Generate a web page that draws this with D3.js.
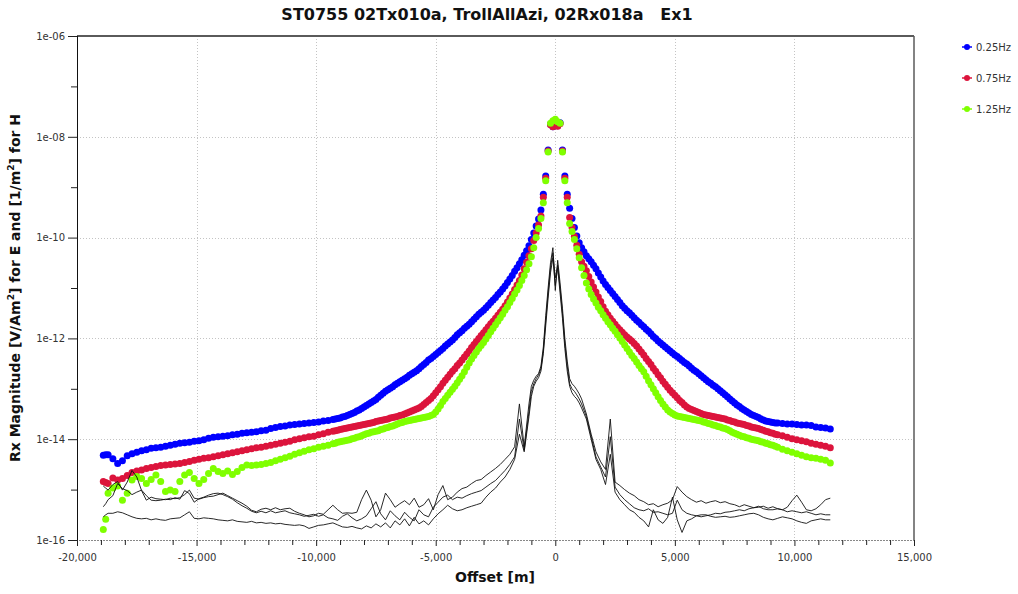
<!DOCTYPE html>
<html>
<head>
<meta charset="utf-8">
<script src="https://cdn.jsdelivr.net/npm/d3@7"></script>
<style>
  html, body { margin: 0; padding: 0; background: #fff; }
  svg { display: block; font-family: "DejaVu Sans", sans-serif; }
</style>
</head>
<body>
<svg id="chart" width="1018" height="594"></svg>
<script>
// ---------------- DATA ----------------
const titleText = "ST0755 02Tx010a, TrollAllAzi, 02Rx018a   Ex1";
const seriesNames = ["0.25Hz", "0.75Hz", "1.25Hz"];
const xTickValues = d3.range(-20000, 15001, 1000);
const xTickLabels = [-20000, -15000, -10000, -5000, 0, 5000, 10000, 15000];
const yTickExponents = [-16, -15, -14, -13, -12, -11, -10, -9, -8, -7, -6];
const yTickLabels = ["1e-16", "1e-14", "1e-12", "1e-10", "1e-08", "1e-06"];

// offsets [m] (receiver positions)
const offsets = [-18900, -18800, ...d3.range(-18700, -1299, 200),
                 ...d3.range(-1100, 1101, 100), ...d3.range(1300, 11501, 200)];
// additional receivers on the sloping flanks (dots only)
const extraOffsets = [...d3.range(-9200, -1199, 200), ...d3.range(1200, 9201, 200)];

// log10 of Rx magnitude
const log10Mag_025Hz = [
  -14.32,-14.31,-14.31,-14.39,-14.48,-14.43,-14.33,-14.29,-14.26,-14.23,
  -14.21,-14.18,-14.17,-14.16,-14.14,-14.12,-14.10,-14.08,-14.07,-14.06,
  -14.04,-14.03,-14.01,-13.98,-13.96,-13.95,-13.94,-13.93,-13.91,-13.90,
  -13.88,-13.87,-13.86,-13.85,-13.83,-13.82,-13.79,-13.77,-13.75,-13.74,
  -13.72,-13.71,-13.70,-13.69,-13.68,-13.67,-13.66,-13.64,-13.63,-13.61,
  -13.59,-13.56,-13.53,-13.49,-13.44,-13.39,-13.33,-13.27,-13.21,-13.13,
  -13.05,-12.99,-12.92,-12.86,-12.80,-12.73,-12.67,-12.60,-12.52,-12.43,
  -12.36,-12.28,-12.20,-12.11,-12.03,-11.93,-11.85,-11.76,-11.67,-11.57,
  -11.48,-11.39,-11.29,-11.19,-11.08,-10.96,-10.82,-10.67,-10.52,-10.35,
  -10.16,-10.04,-9.91,-9.77,-9.63,-9.45,-9.14,-8.78,-8.26,-7.75,-7.80,-7.70,
  -7.78,-7.72,-8.26,-8.78,-9.14,-9.42,-9.62,-9.80,-9.97,-10.10,-10.20,
  -10.36,-10.48,-10.62,-10.78,-10.93,-11.05,-11.17,-11.29,-11.40,-11.49,
  -11.59,-11.68,-11.77,-11.86,-11.96,-12.05,-12.13,-12.21,-12.29,-12.36,
  -12.44,-12.51,-12.59,-12.66,-12.74,-12.82,-12.89,-12.96,-13.04,-13.12,
  -13.20,-13.28,-13.35,-13.42,-13.48,-13.53,-13.57,-13.62,-13.65,-13.67,
  -13.68,-13.69,-13.70,-13.70,-13.71,-13.72,-13.72,-13.73,-13.76,-13.77,
  -13.78,-13.80
];
const log10Mag_025Hz_extra = [
  -13.60,-13.58,-13.55,-13.51,-13.47,-13.42,-13.36,-13.30,-13.24,-13.17,
  -13.09,-13.02,-12.96,-12.89,-12.83,-12.77,-12.70,-12.64,-12.56,-12.48,
  -12.40,-12.32,-12.24,-12.15,-12.07,-11.98,-11.89,-11.80,-11.72,-11.62,
  -11.52,-11.44,-11.34,-11.24,-11.13,-11.02,-10.89,-10.75,-10.60,-10.44,-10.26,
  -10.28,-10.42,-10.55,-10.70,-10.86,-10.99,-11.11,-11.23,-11.35,-11.45,
  -11.54,-11.64,-11.73,-11.82,-11.91,-12.00,-12.09,-12.17,-12.25,-12.33,
  -12.40,-12.48,-12.55,-12.63,-12.70,-12.78,
  -12.86,-12.93,-13.00,-13.08,-13.16,-13.24,-13.32,-13.39,-13.45,-13.51,
  -13.55,-13.60,-13.64,-13.66,-13.68
];
const log10Mag_075Hz = [
  -14.84,-14.86,-14.88,-14.77,-14.81,-14.78,-14.72,-14.66,-14.63,-14.61,
  -14.58,-14.56,-14.54,-14.52,-14.51,-14.50,-14.49,-14.48,-14.46,-14.44,
  -14.42,-14.40,-14.38,-14.37,-14.35,-14.33,-14.31,-14.29,-14.27,-14.25,
  -14.23,-14.21,-14.19,-14.17,-14.16,-14.14,-14.12,-14.10,-14.08,-14.06,
  -14.04,-14.01,-13.99,-13.97,-13.95,-13.94,-13.91,-13.89,-13.86,-13.84,
  -13.82,-13.80,-13.78,-13.76,-13.74,-13.72,-13.70,-13.68,-13.65,-13.63,
  -13.61,-13.58,-13.56,-13.53,-13.50,-13.46,-13.42,-13.38,-13.31,-13.23,
  -13.14,-13.02,-12.89,-12.77,-12.65,-12.54,-12.43,-12.31,-12.18,-12.06,
  -11.94,-11.83,-11.71,-11.60,-11.48,-11.35,-11.20,-11.03,-10.85,-10.62,
  -10.36,-10.22,-10.06,-9.91,-9.75,-9.57,-9.20,-8.82,-8.28,-7.76,-7.80,-7.71,
  -7.79,-7.74,-8.28,-8.82,-9.20,-9.60,-9.80,-9.98,-10.15,-10.33,-10.48,
  -10.66,-10.88,-11.08,-11.27,-11.46,-11.60,-11.72,-11.83,-11.93,-12.01,
  -12.10,-12.21,-12.33,-12.46,-12.59,-12.72,-12.85,-12.97,-13.08,-13.18,
  -13.27,-13.36,-13.41,-13.45,-13.49,-13.52,-13.54,-13.56,-13.58,-13.60,
  -13.63,-13.66,-13.69,-13.71,-13.74,-13.77,-13.79,-13.82,-13.85,-13.88,
  -13.91,-13.93,-13.96,-13.99,-14.01,-14.03,-14.05,-14.08,-14.10,-14.12,
  -14.14,-14.17
];
const log10Mag_075Hz_extra = [
  -13.83,-13.81,-13.79,-13.77,-13.75,-13.73,-13.71,-13.69,-13.67,-13.64,
  -13.62,-13.60,-13.57,-13.55,-13.52,-13.48,-13.44,-13.40,-13.35,-13.27,
  -13.19,-13.08,-12.96,-12.83,-12.71,-12.60,-12.49,-12.37,-12.25,-12.12,
  -12.00,-11.89,-11.77,-11.66,-11.54,-11.42,-11.28,-11.12,-10.94,-10.74,-10.49,
  -10.57,-10.77,-10.98,-11.18,-11.37,-11.53,-11.66,-11.78,-11.88,-11.97,
  -12.05,-12.15,-12.27,-12.40,-12.52,-12.65,-12.78,-12.91,-13.03,-13.13,
  -13.23,-13.32,-13.39,-13.43,-13.47,-13.51,
  -13.53,-13.55,-13.57,-13.59,-13.62,-13.65,-13.68,-13.70,-13.73,-13.76,
  -13.78,-13.81,-13.84,-13.87,-13.90
];
const log10Mag_125Hz = [
  -15.79,-15.59,-15.07,-14.97,-14.93,-15.21,-15.07,-14.81,-14.74,-14.78,
  -14.88,-14.80,-14.71,-14.84,-15.04,-15.01,-15.04,-14.84,-14.71,-14.66,
  -14.78,-14.88,-14.80,-14.68,-14.58,-14.64,-14.68,-14.63,-14.70,-14.64,
  -14.56,-14.51,-14.52,-14.51,-14.50,-14.48,-14.46,-14.43,-14.40,-14.37,
  -14.34,-14.30,-14.27,-14.24,-14.21,-14.19,-14.16,-14.14,-14.12,-14.09,
  -14.06,-14.04,-14.02,-13.99,-13.96,-13.93,-13.89,-13.86,-13.84,-13.81,
  -13.78,-13.75,-13.72,-13.68,-13.65,-13.63,-13.61,-13.59,-13.57,-13.55,
  -13.51,-13.40,-13.25,-13.13,-13.01,-12.88,-12.74,-12.57,-12.41,-12.27,
  -12.14,-12.01,-11.87,-11.73,-11.59,-11.44,-11.29,-11.12,-10.95,-10.75,
  -10.52,-10.38,-10.20,-10.00,-9.82,-9.62,-9.31,-8.87,-8.30,-7.73,-7.68,-7.65,
  -7.70,-7.73,-8.30,-8.87,-9.31,-9.72,-9.88,-10.04,-10.22,-10.40,-10.60,
  -10.90,-11.13,-11.30,-11.45,-11.60,-11.73,-11.86,-11.99,-12.13,-12.27,
  -12.40,-12.54,-12.66,-12.84,-13.00,-13.16,-13.30,-13.42,-13.49,-13.54,
  -13.56,-13.58,-13.60,-13.62,-13.64,-13.67,-13.70,-13.73,-13.76,-13.79,
  -13.83,-13.88,-13.92,-13.95,-13.98,-14.01,-14.03,-14.06,-14.09,-14.12,
  -14.16,-14.20,-14.23,-14.26,-14.29,-14.32,-14.35,-14.37,-14.38,-14.40,
  -14.42,-14.47
];
const log10Mag_125Hz_extra = [
  -14.08,-14.05,-14.03,-14.01,-13.98,-13.95,-13.91,-13.88,-13.85,-13.83,
  -13.80,-13.77,-13.74,-13.70,-13.67,-13.64,-13.62,-13.60,-13.58,-13.56,
  -13.53,-13.46,-13.33,-13.19,-13.07,-12.95,-12.81,-12.66,-12.49,-12.34,
  -12.20,-12.08,-11.94,-11.80,-11.66,-11.52,-11.37,-11.21,-11.04,-10.85,-10.64,
  -10.75,-11.02,-11.22,-11.38,-11.53,-11.67,-11.80,-11.93,-12.06,-12.20,
  -12.34,-12.47,-12.60,-12.75,-12.92,-13.08,-13.23,-13.36,-13.46,-13.52,
  -13.55,-13.57,-13.59,-13.61,-13.63,-13.66,
  -13.69,-13.72,-13.75,-13.78,-13.81,-13.86,-13.90,-13.94,-13.97,-14.00,
  -14.02,-14.05,-14.08,-14.11,-14.14
];
// background noise traces (black lines)
const log10Noise_A = [
  -14.93,-14.97,-15.01,-14.90,-14.84,-15.01,-14.85,-14.62,-14.75,-15.02,
  -15.21,-15.15,-15.18,-15.19,-15.20,-15.17,-15.18,-15.16,-15.10,-15.01,
  -15.17,-15.19,-15.16,-15.14,-15.13,-15.10,-15.07,-15.12,-15.17,-15.22,
  -15.27,-15.33,-15.41,-15.44,-15.39,-15.37,-15.40,-15.36,-15.40,-15.38,
  -15.37,-15.43,-15.47,-15.50,-15.54,-15.52,-15.47,-15.49,-15.40,-15.31,
  -15.40,-15.47,-15.46,-15.47,-15.45,-15.20,-15.01,-15.21,-15.54,-15.40,
  -15.07,-15.20,-15.35,-15.28,-15.22,-15.30,-15.17,-15.35,-15.30,-15.18,
  -15.40,-15.10,-14.92,-15.20,-15.15,-15.05,-14.98,-14.95,-14.88,-14.82,
  -14.80,-14.72,-14.65,-14.58,-14.50,-14.40,-14.30,-14.15,-13.30,-14.15,
  -13.30,-12.95,-12.83,-12.75,-12.70,-12.55,-12.17,-11.55,-11.00,-10.50,-10.20,-11.05,
  -10.45,-10.90,-11.40,-12.00,-12.45,-12.80,-12.90,-12.95,-13.02,-13.10,-13.20,
  -13.50,-13.90,-14.25,-14.45,-14.60,-13.60,-14.85,-14.92,-15.00,-15.07,
  -15.12,-15.20,-15.24,-15.30,-15.28,-15.34,-15.30,-15.27,-15.20,-14.94,
  -15.05,-15.14,-15.20,-15.25,-15.22,-15.27,-15.24,-15.22,-15.26,-15.24,
  -15.28,-15.30,-15.34,-15.30,-15.33,-15.36,-15.33,-15.38,-15.40,-15.40,
  -15.38,-15.40,-15.35,-15.22,-15.11,-15.25,-15.40,-15.42,-15.38,-15.30,
  -15.20,-15.17
];
const log10Noise_B = [
  -15.34,-15.28,-15.20,-15.12,-14.88,-14.98,-15.02,-15.10,-15.05,-15.01,
  -15.12,-15.21,-15.22,-15.21,-15.19,-15.20,-15.16,-15.19,-15.02,-15.08,
  -15.25,-15.18,-15.15,-15.11,-15.08,-15.07,-15.10,-15.14,-15.19,-15.26,
  -15.32,-15.37,-15.43,-15.46,-15.43,-15.46,-15.42,-15.46,-15.44,-15.42,
  -15.46,-15.48,-15.50,-15.53,-15.51,-15.49,-15.53,-15.50,-15.56,-15.58,
  -15.61,-15.53,-15.48,-15.56,-15.62,-15.58,-15.52,-15.38,-15.24,-15.48,
  -15.60,-15.42,-15.52,-15.60,-15.45,-15.55,-15.62,-15.40,-15.50,-15.54,
  -15.35,-15.25,-15.15,-15.11,-15.20,-15.15,-15.17,-15.12,-15.08,-15.05,
  -15.02,-14.95,-14.88,-14.82,-14.72,-14.62,-14.50,-14.35,-13.60,-14.22,
  -13.45,-13.05,-12.90,-12.80,-12.72,-12.60,-12.25,-11.65,-11.10,-10.60,-10.30,-10.80,
  -10.55,-11.00,-11.50,-12.10,-12.55,-12.90,-13.00,-13.05,-13.12,-13.20,-13.30,
  -13.55,-13.95,-14.35,-14.55,-14.75,-13.95,-14.95,-15.10,-15.20,-15.28,
  -15.36,-15.40,-15.42,-15.38,-15.45,-15.44,-15.47,-15.50,-15.47,-15.21,
  -15.40,-15.47,-15.50,-15.52,-15.54,-15.52,-15.50,-15.47,-15.48,-15.45,
  -15.44,-15.42,-15.40,-15.42,-15.38,-15.36,-15.35,-15.33,-15.37,-15.34,
  -15.38,-15.40,-15.44,-15.42,-15.44,-15.46,-15.44,-15.47,-15.50,-15.48,
  -15.50,-15.50
];
const log10Noise_C = [
  -15.54,-15.50,-15.47,-15.47,-15.44,-15.46,-15.50,-15.54,-15.57,-15.58,
  -15.57,-15.60,-15.58,-15.60,-15.61,-15.58,-15.57,-15.56,-15.50,-15.44,
  -15.57,-15.58,-15.56,-15.57,-15.58,-15.60,-15.61,-15.62,-15.60,-15.63,
  -15.64,-15.65,-15.63,-15.66,-15.65,-15.67,-15.66,-15.68,-15.67,-15.69,
  -15.70,-15.71,-15.70,-15.72,-15.77,-15.74,-15.71,-15.70,-15.68,-15.66,
  -15.70,-15.74,-15.75,-15.73,-15.76,-15.78,-15.72,-15.76,-15.68,-15.74,
  -15.66,-15.76,-15.62,-15.70,-15.58,-15.72,-15.55,-15.68,-15.62,-15.70,
  -15.58,-15.48,-15.40,-15.31,-15.38,-15.42,-15.40,-15.36,-15.33,-15.30,
  -15.27,-15.15,-15.05,-14.97,-14.85,-14.75,-14.60,-14.40,-13.90,-14.25,
  -13.55,-13.15,-12.95,-12.85,-12.78,-12.65,-12.30,-11.75,-11.20,-10.70,-10.40,-10.95,
  -10.60,-11.10,-11.60,-12.20,-12.65,-12.95,-13.08,-13.15,-13.20,-13.28,-13.38,
  -13.60,-14.00,-14.40,-14.60,-14.90,-14.30,-15.05,-15.20,-15.30,-15.40,
  -15.45,-15.55,-15.62,-15.74,-15.40,-15.60,-15.67,-15.55,-15.15,-15.60,
  -15.85,-15.62,-15.58,-15.52,-15.50,-15.50,-15.53,-15.55,-15.54,-15.53,
  -15.55,-15.54,-15.52,-15.50,-15.48,-15.47,-15.50,-15.55,-15.58,-15.60,
  -15.57,-15.54,-15.56,-15.58,-15.62,-15.65,-15.67,-15.62,-15.60,-15.58,
  -15.60,-15.60
];
const seriesColors = ["#0000ff", "#dc143c", "#7fff00"];

// ---------------- CHART ----------------
const svg = d3.select("#chart");
const W = 1018, H = 594;
const m = { left: 77, right: 914, top: 36, bottom: 540 };

svg.append("rect").attr("width", W).attr("height", H).attr("fill", "#fff");

const x = d3.scaleLinear().domain([-20000, 15000]).range([m.left, m.right]);
const y = d3.scaleLog().domain([1e-16, 1e-6]).range([m.bottom, m.top]);

const fmtX = v => d3.format(",")(v).replace("\u2212", "-");

// grid
const grid = svg.append("g").attr("stroke", "#c4c4c4").attr("stroke-width", 1)
  .attr("stroke-dasharray", "1,2");
xTickLabels.filter(v => v > -20000 && v < 15000).forEach(v => {
  grid.append("line").attr("x1", Math.round(x(v)) + 0.5).attr("x2", Math.round(x(v)) + 0.5)
    .attr("y1", m.top).attr("y2", m.bottom);
});
[-14, -12, -10, -8].forEach(e => {
  grid.append("line").attr("x1", m.left).attr("x2", m.right)
    .attr("y1", Math.round(y(Math.pow(10, e))) + 0.5).attr("y2", Math.round(y(Math.pow(10, e))) + 0.5);
});

// series dots
const seriesLogs = [log10Mag_025Hz, log10Mag_075Hz, log10Mag_125Hz];
const seriesExtra = [log10Mag_025Hz_extra, log10Mag_075Hz_extra, log10Mag_125Hz_extra];
const plotG = svg.append("g");
seriesLogs.forEach((arr, i) => {
  if (arr.length !== offsets.length) console.error("length mismatch", i, arr.length, offsets.length);
  if (seriesExtra[i].length !== extraOffsets.length) console.error("extra mismatch", i, seriesExtra[i].length, extraOffsets.length);
  const pts = offsets.map((o, k) => ({ o, v: Math.pow(10, arr[k]) }))
    .concat(extraOffsets.map((o, k) => ({ o, v: Math.pow(10, seriesExtra[i][k]) })))
    .filter(d => isFinite(d.v))
    .sort((a, b) => a.o - b.o);
  plotG.append("g").selectAll("circle").data(pts).join("circle")
    .attr("cx", d => x(d.o)).attr("cy", d => y(d.v)).attr("r", 3.5)
    .attr("fill", seriesColors[i]);
});

// noise lines
const noiseLogs = [log10Noise_A, log10Noise_B, log10Noise_C];
const line = d3.line().x(d => x(d.o)).y(d => y(d.v));
noiseLogs.forEach((arr, i) => {
  if (arr.length !== offsets.length) console.error("noise length mismatch", i, arr.length, offsets.length);
  const pts = offsets.map((o, k) => ({ o, v: Math.pow(10, arr[k]) })).filter(d => isFinite(d.v));
  plotG.append("path").datum(pts).attr("d", line)
    .attr("fill", "none").attr("stroke", "#111").attr("stroke-width", 0.9)
    .attr("stroke-linejoin", "round");
});

// frame: top and right borders
svg.append("line").attr("x1", m.left).attr("x2", m.right).attr("y1", m.top).attr("y2", m.top)
  .attr("stroke", "#5a5a5a").attr("stroke-width", 2);
svg.append("line").attr("x1", m.right).attr("x2", m.right).attr("y1", m.top).attr("y2", m.bottom)
  .attr("stroke", "#5a5a5a").attr("stroke-width", 1.5);

// x axis
const xAxis = d3.axisBottom(x).tickValues(xTickValues)
  .tickSize(5).tickFormat(v => xTickLabels.includes(v) ? fmtX(v) : "");
const gx = svg.append("g").attr("transform", `translate(0,${m.bottom})`).call(xAxis);
gx.select(".domain").attr("stroke", "#888").attr("stroke-dasharray", "2,1");
gx.selectAll(".tick line").attr("stroke", "#222")
  .attr("y2", v => xTickLabels.includes(v) ? 6 : 5);
gx.selectAll(".tick text").attr("fill", "#333").attr("font-size", 10)
  .attr("font-family", "DejaVu Sans").attr("dy", "1.25em");

// y axis
const yAxis = d3.axisLeft(y).tickValues(yTickExponents.map(e => Math.pow(10, e)))
  .tickSize(6).tickFormat(v => {
    const e = Math.round(Math.log10(v));
    const lab = "1e-" + String(-e).padStart(2, "0");
    return yTickLabels.includes(lab) ? lab : "";
  });
const gy = svg.append("g").attr("transform", `translate(${m.left},0)`).call(yAxis);
gy.select(".domain").attr("stroke", "#111").attr("d", `M0.5,${m.top}V${m.bottom}`);
gy.selectAll(".tick line").attr("stroke", "#222")
  .attr("x2", v => (Math.round(Math.log10(v)) % 2 === 0) ? -9 : -6);
gy.selectAll(".tick text").attr("fill", "#333").attr("font-size", 10)
  .attr("font-family", "DejaVu Sans").attr("x", -12);

// title
svg.append("text").attr("x", 487).attr("y", 20).attr("text-anchor", "middle")
  .attr("font-size", 16).attr("font-weight", "bold").attr("fill", "#111")
  .style("white-space", "pre").text(titleText);

// x label
svg.append("text").attr("x", 495).attr("y", 582).attr("text-anchor", "middle")
  .attr("font-size", 14).attr("font-weight", "bold").attr("fill", "#111").text("Offset [m]");

// y label with superscripts
const yl = svg.append("text").attr("transform", "translate(20,288) rotate(-90)")
  .attr("text-anchor", "middle").attr("font-size", 14).attr("font-weight", "bold").attr("fill", "#111");
yl.append("tspan").text("Rx Magnitude [V/Am");
yl.append("tspan").attr("font-size", 9).attr("dy", -6).text("2");
yl.append("tspan").attr("dy", 6).text("] for E and [1/m");
yl.append("tspan").attr("font-size", 9).attr("dy", -6).text("2");
yl.append("tspan").attr("dy", 6).text("] for H");

// legend
const legY = [47, 78, 109];
seriesNames.forEach((n, i) => {
  const g = svg.append("g").attr("transform", `translate(967,${legY[i]})`);
  g.append("line").attr("x1", -5).attr("x2", 5).attr("y1", 0).attr("y2", 0)
    .attr("stroke", seriesColors[i]).attr("stroke-width", 1.5);
  g.append("circle").attr("r", 3).attr("fill", seriesColors[i]);
  g.append("text").attr("x", 9).attr("y", 3.6).attr("font-size", 10)
    .attr("fill", "#333").text(n);
});
</script>
</body>
</html>
